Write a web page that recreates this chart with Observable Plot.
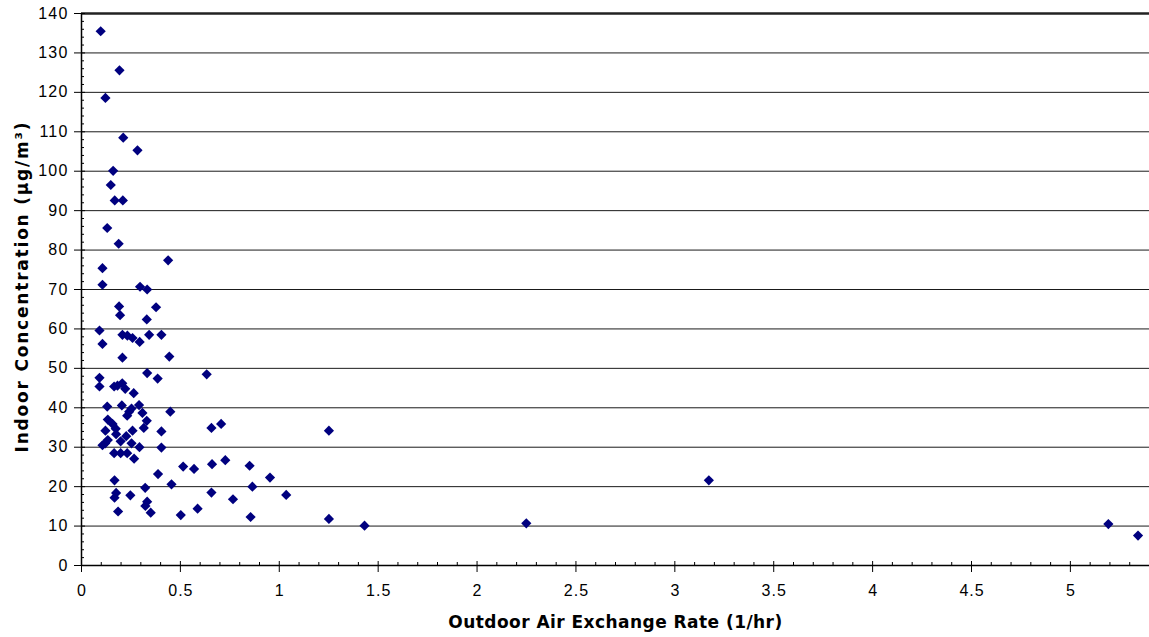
<!DOCTYPE html>
<html><head><meta charset="utf-8">
<script src="https://cdn.jsdelivr.net/npm/d3@7"></script>
<script src="https://cdn.jsdelivr.net/npm/@observablehq/plot@0.6"></script>
<style>
html,body{margin:0;padding:0;background:#fff} svg{display:block}
g[aria-label="y-axis tick label"] text{letter-spacing:1.2px}
g[aria-label="x-axis tick label"] text{letter-spacing:1px}
g.xtitle text{letter-spacing:0.45px}
g.ytitle text{letter-spacing:1.8px}
</style>
</head><body><div id="chart"></div>
<script>
// Outdoor air exchange rate (1/hr)
const exchangeRate = [
  0.097,0.192,0.121,0.211,0.283,0.160,0.148,0.168,0.209,0.130,
  0.188,0.438,0.106,0.106,0.296,0.332,0.190,0.377,0.195,0.330,
  0.091,0.207,0.232,0.258,0.294,0.342,0.404,0.106,0.207,0.444,
  0.332,0.385,0.633,0.091,0.091,0.165,0.182,0.206,0.221,0.264,
  0.130,0.204,0.291,0.253,0.241,0.231,0.308,0.449,0.133,0.330,
  0.157,0.173,0.315,0.657,0.706,0.121,0.175,0.258,0.404,0.226,
  0.133,0.198,0.106,0.120,0.253,0.293,0.404,0.165,0.198,0.231,
  0.266,0.514,0.569,0.660,0.727,0.850,0.953,0.387,0.167,0.455,
  0.322,0.864,0.657,0.175,0.167,0.247,0.766,0.332,0.323,0.185,
  0.350,0.502,0.587,0.855,1.035,1.251,1.251,1.431,2.249,3.172,
  5.192,5.342
];
// Indoor concentration (µg/m3)
const concentration = [
  135.5,125.6,118.6,108.5,105.3,100.1,96.5,92.6,92.6,85.6,
  81.6,77.4,75.4,71.2,70.7,70.0,65.7,65.5,63.5,62.4,
  59.6,58.5,58.3,57.7,56.7,58.5,58.5,56.2,52.7,53.0,
  48.8,47.4,48.5,47.6,45.4,45.4,45.6,46.2,44.8,43.7,
  40.3,40.6,40.7,39.8,39.0,38.0,38.7,39.0,37.0,36.7,
  35.9,34.7,34.9,34.9,35.9,34.2,33.3,34.2,34.0,32.8,
  31.8,31.5,30.5,31.0,31.0,30.0,29.9,28.5,28.5,28.5,
  27.1,25.1,24.5,25.7,26.7,25.3,22.3,23.2,21.6,20.6,
  19.7,20.0,18.5,18.4,17.2,17.8,16.8,16.2,15.1,13.7,
  13.4,12.8,14.4,12.3,17.9,34.2,11.8,10.1,10.7,21.6,
  10.5,7.6
];
const xTicks = [0,0.5,1,1.5,2,2.5,3,3.5,4,4.5,5];
const xTickLabels = ["0","0.5","1","1.5","2","2.5","3","3.5","4","4.5","5"];
const xMinorTicks = [0.1,0.2,0.3,0.4,0.6,0.7,0.8,0.9,1.1,1.2,1.3,1.4,1.6,1.7,1.8,1.9,2.1,2.2,2.3,2.4,2.6,2.7,2.8,2.9,3.1,3.2,3.3,3.4,3.6,3.7,3.8,3.9,4.1,4.2,4.3,4.4,4.6,4.7,4.8,4.9,5.1,5.2,5.3];
const yTicks = [0,10,20,30,40,50,60,70,80,90,100,110,120,130,140];
const yMinorTicks = [2,4,6,8,12,14,16,18,22,24,26,28,32,34,36,38,42,44,46,48,52,54,56,58,62,64,66,68,72,74,76,78,82,84,86,88,92,94,96,98,102,104,106,108,112,114,116,118,122,124,126,128,132,134,136,138];
const xTitle = "Outdoor Air Exchange Rate (1/hr)";
const yTitle = "Indoor Concentration (µg/m³)";

const points = exchangeRate.map((x, i) => ({x, y: concentration[i]}));
const blank = () => "";
const titleFont = "Verdana, 'DejaVu Sans', sans-serif";

const chart = Plot.plot({
  width: 1149, height: 637,
  marginLeft: 81, marginRight: 0, marginTop: 13, marginBottom: 72,
  style: {fontFamily: "Arial, 'Liberation Sans', sans-serif", fontSize: "16px", color: "#000", background: "#fff"},
  x: {domain: [0, 5.4]},
  y: {domain: [0, 140]},
  marks: [
    Plot.ruleY(yTicks.filter(d => d > 0 && d < 140), {stroke: "#1a1a1a", strokeWidth: 1}),
    Plot.ruleY([140], {stroke: "#222", strokeWidth: 2.5}),
    Plot.axisY(yMinorTicks, {tickSize: 3, dx: 3, tickFormat: blank, label: null, stroke: "#000"}),
    Plot.axisY(yTicks, {tickSize: 11, dx: 4, tickFormat: blank, label: null, stroke: "#000"}),
    Plot.axisY(yTicks, {tickSize: 0, tickPadding: 13, tickFormat: d => String(d), label: null, fill: "#000", fontSize: 16}),
    Plot.axisX(xMinorTicks, {tickSize: 3, dy: -3, tickFormat: blank, label: null, stroke: "#000"}),
    Plot.axisX(xTicks, {tickSize: 11, dy: -4, tickFormat: blank, label: null, stroke: "#000"}),
    Plot.axisX(xTicks, {tickSize: 0, tickPadding: 19, dx: 0.5, tickFormat: (d, i) => xTickLabels[i], label: null, fill: "#000", fontSize: 16}),
    Plot.ruleX([0], {stroke: "#000", strokeWidth: 1.5}),
    Plot.ruleY([0], {stroke: "#000", strokeWidth: 1.5}),
    Plot.dot(points, {x: "x", y: "y", symbol: "diamond2", r: 4.6, fill: "#00007f", stroke: null}),
    Plot.text([xTitle], {frameAnchor: "bottom", dy: 57, textAnchor: "middle", lineAnchor: "middle", fontWeight: "bold", fontFamily: titleFont, fontSize: 17, fill: "#000", className: "xtitle"}),
    Plot.text([yTitle], {frameAnchor: "left", dx: -59, dy: -3, rotate: -90, textAnchor: "middle", lineAnchor: "middle", fontWeight: "bold", fontFamily: titleFont, fontSize: 17, fill: "#000", className: "ytitle"})
  ]
});
document.getElementById("chart").appendChild(chart);
</script>
</body></html>
